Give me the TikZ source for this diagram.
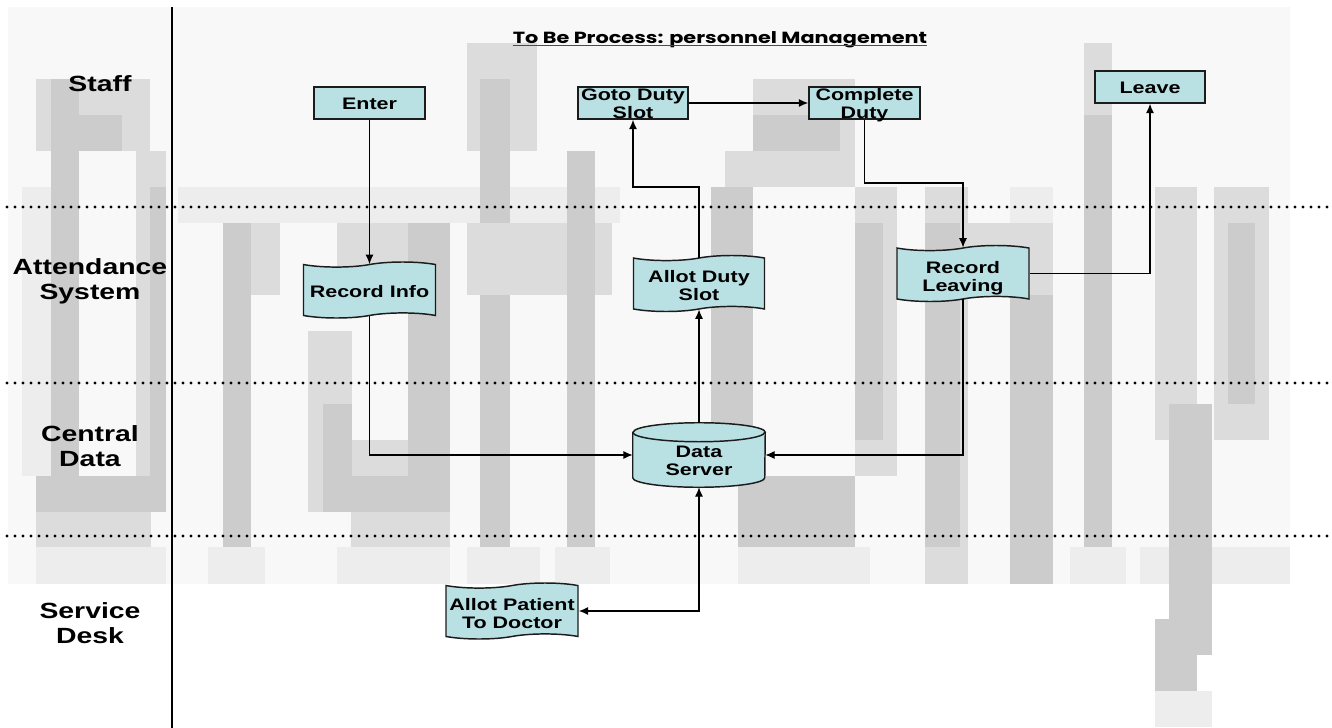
\documentclass[tikz,border=0pt]{standalone}
\usepackage{fontspec}
\setmainfont{Liberation Sans}[FakeStretch=1.29]
\newfontfamily\titlefont{Poppins}[FakeStretch=1.29]
\usetikzlibrary{arrows.meta,shapes.symbols,calc,backgrounds}

\definecolor{boxfill}{RGB}{185,224,227}
\definecolor{edgeink}{RGB}{28,28,28}
\definecolor{wmdark}{RGB}{204,204,204}
\definecolor{wmmid}{RGB}{220,220,220}
\definecolor{wmlight}{RGB}{237,237,237}
\definecolor{wmhaze}{RGB}{248,248,248}

% centred block of lines, lowered by #1 pt, taking no vertical room
\newcommand\ctext[2]{\raisebox{-#1pt}[0pt][0pt]{\begin{tabular}{@{}c@{}}#2\end{tabular}}}
% one cell of the pixelated background lettering
\newcommand\wm[5]{\fill[#1] (#2,#3) rectangle (#4,#5);}

\begin{document}
\begin{tikzpicture}[x=0.75pt,y=-0.75pt,
  >={Latex[length=7pt,width=6pt]},
  boxfont/.style={font=\bfseries\fontsize{12.5}{13.5}\selectfont},
  procbox/.style={rectangle, draw=edgeink, fill=boxfill, line width=1.1pt, inner sep=0pt,
    minimum width=83pt, minimum height=24pt, boxfont},
  tapebox/.style={tape, draw=edgeink, fill=boxfill, line width=1.1pt, inner sep=0pt,
    minimum width=99pt, minimum height=42pt, tape bend height=3.8pt, boxfont},
  storebox/.style={rectangle, inner sep=0pt, minimum width=99pt, minimum height=48pt, boxfont},
  lane/.style={font=\bfseries\fontsize{16.5}{18.75}\selectfont, inner sep=0pt},
  link/.style={draw=black, line width=0.9pt, ->},
  dotline/.style={line width=2.3pt, line cap=round, dash pattern=on 0pt off 6pt},
]
\useasboundingbox (0,0) rectangle (1332,728);

\begin{scope}[on background layer]
\fill[white] (0,0) rectangle (1332,728);
% ---- background lettering (pixelated) ----
\wm{wmhaze}{8}{7}{1290}{584}
% D
\wm{wmlight}{22}{187}{51}{476}
\wm{wmmid}{36}{79}{150}{151}
\wm{wmdark}{51}{115}{122}{151}
\wm{wmdark}{51}{79}{79}{547}
\wm{wmmid}{136}{151}{166}{476}
\wm{wmdark}{150}{187}{166}{476}
\wm{wmdark}{36}{476}{166}{512}
\wm{wmmid}{36}{512}{151}{547}
\wm{wmlight}{36}{547}{166}{584}
% r
\wm{wmlight}{178}{187}{620}{223}
\wm{wmdark}{223}{223}{251}{547}
\wm{wmmid}{251}{223}{280}{295}
\wm{wmlight}{208}{547}{265}{584}
% a
\wm{wmmid}{337}{223}{450}{295}
\wm{wmdark}{408}{223}{450}{547}
\wm{wmmid}{308}{331}{352}{512}
\wm{wmdark}{323}{404}{352}{512}
\wm{wmmid}{352}{440}{408}{476}
\wm{wmdark}{336}{476}{450}{512}
\wm{wmmid}{351}{512}{450}{547}
\wm{wmlight}{337}{547}{450}{584}
% f
\wm{wmmid}{467}{43}{537}{151}
\wm{wmdark}{480}{79}{510}{547}
\wm{wmmid}{467}{223}{612}{295}
\wm{wmlight}{467}{547}{540}{584}
% t
\wm{wmdark}{567}{151}{595}{547}
\wm{wmlight}{555}{547}{610}{584}
% O
\wm{wmmid}{753}{79}{855}{187}
\wm{wmdark}{753}{115}{840}{151}
\wm{wmmid}{725}{151}{753}{187}
\wm{wmdark}{711}{187}{753}{476}
\wm{wmmid}{855}{187}{897}{476}
\wm{wmdark}{855}{223}{883}{440}
\wm{wmdark}{738}{476}{855}{547}
\wm{wmlight}{738}{547}{870}{584}
% n
\wm{wmmid}{925}{187}{968}{584}
\wm{wmdark}{925}{223}{960}{547}
\wm{wmmid}{968}{223}{1053}{295}
\wm{wmdark}{1010}{295}{1053}{584}
\wm{wmlight}{1010}{187}{1053}{223}
% l
\wm{wmmid}{1084}{43}{1112}{115}
\wm{wmdark}{1084}{115}{1112}{547}
\wm{wmlight}{1070}{547}{1126}{584}
% y
\wm{wmlight}{1140}{547}{1290}{584}
\wm{wmmid}{1155}{187}{1197}{440}
\wm{wmmid}{1214}{187}{1269}{440}
\wm{wmdark}{1228}{223}{1255}{404}
\wm{wmdark}{1169}{404}{1212}{655}
\wm{wmdark}{1155}{619}{1197}{691}
\wm{wmlight}{1155}{691}{1212}{727}
\end{scope}

% ---- lanes ----
\draw[line width=1pt] (172,7) -- (172,728);
\draw[dotline] (7,207) -- (1332,207);
\draw[dotline] (7,383) -- (1332,383);
\draw[dotline] (7,536) -- (1332,536);

\node[lane] (lstaff) at (100,84) {\ctext{6.3}{Staff}};
\node[lane] (latt) at (90,279.5) {\ctext{6.3}{Attendance\\System}};
\node[lane] (lcen) at (90,446.5) {\ctext{6.3}{Central\\Data}};
\node[lane] (lsvc) at (90,623.5) {\ctext{6.3}{Service\\Desk}};

% ---- title ----
\node[anchor=base, inner sep=0pt, font=\titlefont\bfseries\fontsize{12.1}{14}\selectfont]
  (title) at (720,43.5) {To Be Process: personnel Management};
\draw[line width=1.1pt, black!70] ([yshift=-1.4pt]title.base west) -- ([yshift=-1.4pt]title.base east);

% ---- steps ----
\node[procbox, minimum width=83.25pt] (enter) at (369.5,103) {\ctext{5.4}{Enter}};
\node[procbox, minimum width=82.5pt] (goto) at (633,103) {\ctext{4.9}{Goto Duty\\Slot}};
\node[procbox, minimum width=83.25pt] (complete) at (864.5,103) {\ctext{5.2}{Complete\\Duty}};
\node[procbox, minimum width=82.5pt] (leave) at (1150,87) {\ctext{5.4}{Leave}};
\node[tapebox] (recinfo) at (369.5,290) {\ctext{6.0}{Record Info}};
\node[tapebox, minimum width=98.25pt] (allot) at (699,283.5) {\ctext{6.4}{Allot Duty\\Slot}};
\node[tapebox] (recleave) at (963,273.5) {\ctext{7.0}{Record\\Leaving}};
\node[storebox] (srv) at (699,455) {\ctext{9.0}{Data\\Server}};
\node[tapebox] (patient) at (512,611) {\ctext{6.8}{Allot Patient\\To Doctor}};

% drum outline of the data server, behind its label
\begin{scope}[on background layer]
\filldraw[draw=edgeink, fill=boxfill, line width=1.1pt]
  ($(srv.north west)+(0,9.5)$) -- ($(srv.south west)+(0,-9.5)$)
  arc[start angle=180, end angle=0, x radius=66, y radius=9.5]
  -- ($(srv.north east)+(0,9.5)$)
  arc[start angle=0, end angle=-180, x radius=66, y radius=9.5] -- cycle;
\draw[edgeink, line width=1.1pt] ($(srv.north west)+(0,9.5)$)
  arc[start angle=180, end angle=0, x radius=66, y radius=9.5];
\end{scope}

% ---- flows ----
\coordinate (dutyturn) at (633,187);
\coordinate (completeturn) at (900,183);
\draw[link] (enter.south) -- (recinfo.north);
\draw[link] (recinfo.south) |- (srv.west);
\draw[link] (srv.north) -- (allot.south);
\draw[link] (allot.north) |- (dutyturn) -- (goto.south);
\draw[link] (goto.east) -- (complete.west);
\draw[link] (complete.south) |- (completeturn) -| (recleave.north);
\draw[link] (recleave.east) -| (leave.south);
\draw[link] (recleave.south) |- (srv.east);
\draw[link, <->] (patient.east) -| (srv.south);
\end{tikzpicture}
\end{document}
